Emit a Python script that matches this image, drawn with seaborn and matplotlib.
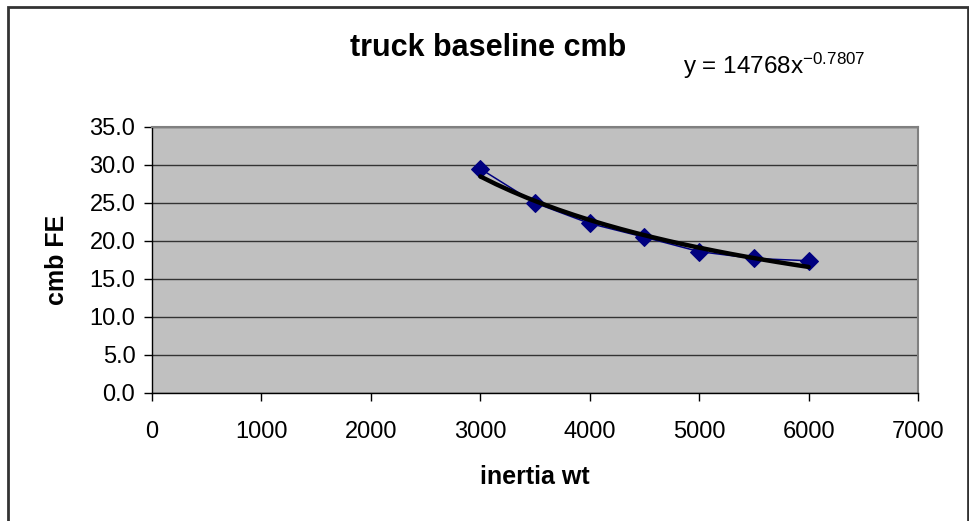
import numpy as np
import pandas as pd
import matplotlib
matplotlib.use("Agg")
import matplotlib.pyplot as plt
import matplotlib.patches as mpatches
import seaborn as sns

# data
inertia_wt = [3000, 3500, 4000, 4500, 5000, 5500, 6000]
cmb_fe = [29.5, 25.0, 22.3, 20.5, 18.6, 17.7, 17.4]

# power trendline shown on the chart: y = 14768 x^-0.7807
trend_a = 14768
trend_b = -0.7807

sns.set_style("white")
plt.rcParams['font.family'] = ['Liberation Sans', 'DejaVu Sans']
plt.rcParams['mathtext.fontset'] = 'custom'
plt.rcParams['mathtext.rm'] = 'Liberation Sans'
plt.rcParams['mathtext.it'] = 'Liberation Sans'
for key in ['text.color', 'axes.labelcolor', 'xtick.color', 'ytick.color']:
    plt.rcParams[key] = 'black'

df = pd.DataFrame({'inertia wt': inertia_wt, 'cmb FE': cmb_fe})
trend_x = np.linspace(min(inertia_wt), max(inertia_wt), 22)
trend = pd.DataFrame({'x': trend_x, 'y': trend_a * trend_x ** trend_b})

fig = plt.figure(figsize=(9.69, 5.21), dpi=100)
ax = fig.add_axes([0.1569, 0.2457, 0.7905, 0.5106])
ax.set_facecolor('#C0C0C0')

sns.lineplot(data=df, x='inertia wt', y='cmb FE', ax=ax, color='#000080',
             linewidth=1.1, marker='D', markersize=9, markeredgecolor='#000080',
             zorder=3)
sns.lineplot(data=trend, x='x', y='y', ax=ax, color='black', linewidth=3.2,
             zorder=4)

ax.set_xlim(0, 7000)
ax.set_ylim(0, 35)
ax.set_xticks(np.arange(0, 7001, 1000))
ax.set_yticks(np.arange(0, 35.1, 5))
ax.set_yticklabels([f"{v:.1f}" for v in np.arange(0, 35.1, 5)])
ax.yaxis.grid(True, color='#333333', linewidth=1.0)
ax.set_axisbelow(True)

for side in ['top', 'right']:
    ax.spines[side].set_color('#808080')
    ax.spines[side].set_linewidth(1.5)
for side in ['left', 'bottom']:
    ax.spines[side].set_color('black')
    ax.spines[side].set_linewidth(1.0)

ax.tick_params(axis='both', direction='out', length=6, width=1, color='black',
               labelsize=17, left=True, bottom=True)
ax.tick_params(axis='x', pad=14)
ax.tick_params(axis='y', pad=6)
ax.set_xlabel('inertia wt', fontsize=18, fontweight='bold', labelpad=16)
ax.set_ylabel('cmb FE', fontsize=18, fontweight='bold', labelpad=15)

fig.text(488 / 969, 1 - 48 / 521, 'truck baseline cmb', fontsize=22,
         fontweight='bold', ha='center', va='center')
fig.text(683 / 969, 1 - 66 / 521, r'y = 14768x$^{-0.7807}$', fontsize=17.5,
         ha='left', va='center')

# chart area border
fig.patches.append(mpatches.Rectangle((8 / 969, -0.02), 960 / 969, 1.02 - 7 / 521,
                                      transform=fig.transFigure, fill=False,
                                      edgecolor='#333333', linewidth=2))

fig.savefig('out.png', dpi=100)
